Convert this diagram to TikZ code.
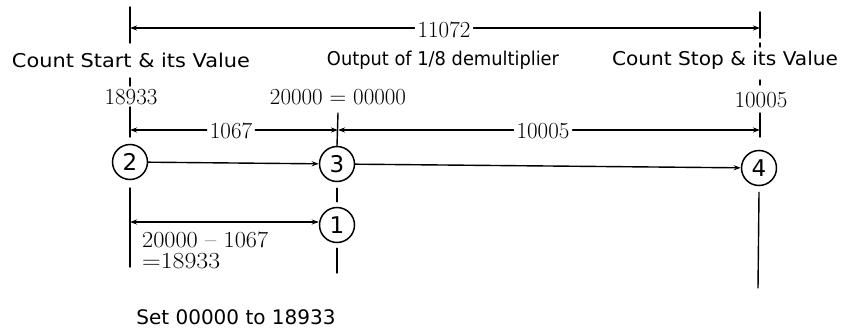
\documentclass[tikz,border=0pt]{standalone}
\usepackage{fontspec}
\usepackage{graphicx}
\usetikzlibrary{arrows.meta,calc}
\newfontfamily\lblfont{DejaVu Sans}
\newcommand{\fitw}[2]{\resizebox{#1}{\height}{#2}}
\tikzset{
  ln/.style={line width=1.4pt, line cap=round},
  tip/.style={-{Stealth[length=7pt,width=5pt]}},
  circ/.style={circle, draw, line width=1.5pt, minimum size=35pt, inner sep=0pt,
               font=\lblfont\fontsize{23}{25}\selectfont},
  word/.style={inner sep=0pt, font=\lblfont\fontsize{19}{21}\selectfont},
  num/.style={inner sep=0pt, font=\fontsize{23}{25}\selectfont},
  dimlbl/.style={inner sep=3pt, font=\fontsize{23}{25}\selectfont},
}
\begin{document}
\begin{tikzpicture}[x=1pt,y=-1pt]
\useasboundingbox (0,0) rectangle (845,331);

% circles
\node[circ] (c2) at (130,162) {2};
\node[circ] (c3) at (337,164) {3};
\node[circ] (c4) at (759,168) {4};
\node[circ] (c1) at (337,225) {1};

% texts
\node[word] (tStart) at (131,60) {\fitw{238pt}{Count Start \& its Value}};
\node[word] (tOut) at (443,60) {\fitw{232pt}{Output of 1/8 demultiplier}};
\node[word] (tStop) at (725,60) {\fitw{226pt}{Count Stop \& its Value}};
\node[num] (n18933) at (131,97) {18933};
\node[num] (n20000) at (338,97) {20000 = 00000};
\node[num] (n10005) at (761,100) {10005};
\node[num, anchor=west] (nDiff) at (142,240) {\fitw{126pt}{20000 \textendash{} 1067}};
\node[num, anchor=west] (nEq) at (142,261) {\fitw{78pt}{=18933}};
\node[word, font=\lblfont\fontsize{20}{22}\selectfont] (tSet) at (236,317) {Set 00000 to 18933};

% extension lines: left
\coordinate (L1) at (130,7);   \coordinate (L2) at (130,43);
\coordinate (L3) at (130,78);  \coordinate (L4) at (130,86);
\coordinate (L5) at (130,107); \coordinate (L6) at (130,137);
\coordinate (L7) at (130,188); \coordinate (L8) at (130,267);
\draw[ln] (L1) -- (L2);
\draw[ln] (L3) -- (L4);
\draw[ln] (L5) -- (L6);
\draw[ln] (L7) -- (L8);

% extension lines: right
\coordinate (R1) at (760,12);  \coordinate (R2) at (760,38);
\coordinate (R3) at (760,43);  \coordinate (R4) at (760,47);
\coordinate (R5) at (760,80);  \coordinate (R6) at (760,85);
\coordinate (R7) at (760,113); \coordinate (R8) at (760,137);
\coordinate (R9) at (758,288);
\draw[ln] (R1) -- (R2);
\draw[ln] (R3) -- (R4);
\draw[ln] (R5) -- (R6);
\draw[ln] (R7) -- (R8);
\draw[ln] ($(c4.south)+(0,6)$) -- (R9);

% extension lines: middle
\coordinate (M1) at (338,113);
\coordinate (M2) at (337,273);
\draw[ln] (M1) -- (c3.north);
\draw[ln] ($(c3.south)+(0,6)$) -- ($(c1.north)+(0,-5)$);
\draw[ln] ($(c1.south)+(0,5)$) -- (M2);

% top dimension 11072
\coordinate (T1) at (130,28);
\coordinate (T2) at (760,28);
\node[dimlbl] (d11072) at (444,30) {11072};
\draw[ln,tip] (d11072.west |- T1) -- (T1);
\draw[ln,tip] (d11072.east |- T2) -- (T2);

% middle dimensions
\coordinate (D1) at (130,130);
\coordinate (D2) at (338,130);
\coordinate (D3) at (760,130);
\node[dimlbl] (d1067) at (231,131) {1067};
\draw[ln,tip] (d1067.west |- D1) -- (D1);
\draw[ln,tip] (d1067.east |- D1) -- (D2);
\node[dimlbl] (d10005) at (543,131) {10005};
\draw[ln,tip] (d10005.west |- D2) -- (D2);
\draw[ln,tip] (d10005.east |- D3) -- (D3);

% flow arrows
\draw[ln,tip] (c2) -- (c3);
\draw[ln,tip] (c3) -- (c4);
\coordinate (B1) at (130,222);
\draw[ln,tip] (c1.west |- B1) ++(-2,0) -- (B1);
\draw[ln,tip] (B1) ++(40,0) -- (c1.west |- B1);
\end{tikzpicture}
\end{document}
